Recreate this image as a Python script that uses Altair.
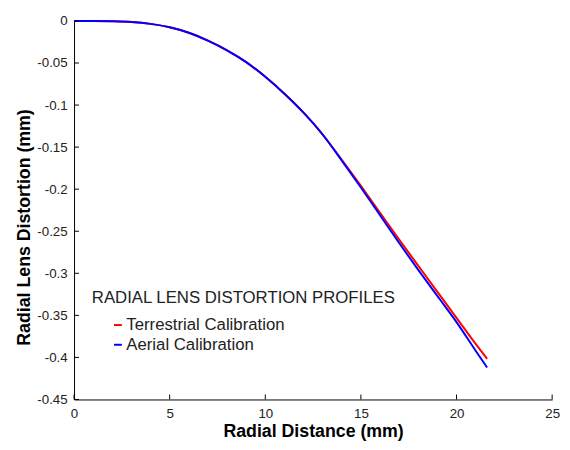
import altair as alt
import pandas as pd

# Values
radius = [0, 1, 2, 3, 4, 5, 6, 7, 8, 9, 10, 11, 12, 13, 14, 15, 16, 17, 18, 19, 20, 21, 21.6]
terrestrial = [0, 0, -0.0003, -0.0012, -0.0035, -0.0075, -0.014, -0.0235, -0.035, -0.049,
               -0.0664, -0.0865, -0.109, -0.135, -0.165, -0.196, -0.228, -0.260, -0.291,
               -0.322, -0.353, -0.384, -0.4016]
aerial = [0, 0, -0.0003, -0.0012, -0.0035, -0.0075, -0.014, -0.0235, -0.035, -0.049,
          -0.0664, -0.0865, -0.109, -0.135, -0.166, -0.198, -0.231, -0.264, -0.296,
          -0.327, -0.358, -0.392, -0.412]
series_names = ["Terrestrial Calibration", "Aerial Calibration"]
series_colors = ["#ff0000", "#0000ff"]
x_ticks = [0, 5, 10, 15, 20, 25]
y_ticks = [0, -0.05, -0.1, -0.15, -0.2, -0.25, -0.3, -0.35, -0.4, -0.45]

rows = []
for i, (name, vals) in enumerate(zip(series_names, [terrestrial, aerial])):
    for r, d in zip(radius, vals):
        rows.append({"r": r, "d": d, "series": name, "k": i})
df = pd.DataFrame(rows)

W, H = 485, 384
FONT = "Liberation Sans"
xs = alt.Scale(domain=[0, 25], nice=False, zero=False)
ys = alt.Scale(domain=[-0.45, 0], nice=False, zero=False)

x_axis = alt.Axis(values=x_ticks, title="Radial Distance (mm)", ticks=False, labelPadding=7,
                  titlePadding=3, labelFlush=False, labelOverlap=False)
y_axis = alt.Axis(values=y_ticks, title="Radial Lens Distortion (mm)", ticks=False,
                  labelPadding=7, titlePadding=3, labelFlush=False, labelOverlap=False,
                  labelExpr="'' + datum.value", titleY=209)

lines = alt.Chart(df).mark_line(strokeWidth=2, interpolate="monotone").encode(
    x=alt.X("r:Q", scale=xs, axis=x_axis),
    y=alt.Y("d:Q", scale=ys, axis=y_axis),
    color=alt.Color("series:N", sort=series_names,
                    scale=alt.Scale(domain=series_names, range=series_colors),
                    legend=alt.Legend(
                        title="RADIAL LENS DISTORTION PROFILES", orient="none",
                        legendX=18, legendY=273, titleFontSize=17, titleFontWeight="normal",
                        titleFont=FONT, titleColor="#222", labelFont=FONT, labelFontSize=17,
                        labelColor="#222", symbolType="stroke", symbolSize=64,
                        symbolStrokeWidth=2, symbolOffset=18, labelOffset=0,
                        rowPadding=2, titlePadding=10, padding=0,
                        titleLimit=500, labelLimit=400)),
    order=alt.Order("k:Q"),
)

xt = alt.Chart(pd.DataFrame({"r": x_ticks})).mark_rule(color="black", strokeWidth=1).encode(
    x=alt.X("r:Q", scale=xs, axis=x_axis), y=alt.value(H), y2=alt.value(H - 5))
yt = alt.Chart(pd.DataFrame({"d": y_ticks})).mark_rule(color="black", strokeWidth=1).encode(
    y=alt.Y("d:Q", scale=ys, axis=y_axis), x=alt.value(0), x2=alt.value(5))

chart = alt.layer(lines, xt, yt).properties(
    width=W, height=H, background="white",
    autosize=alt.AutoSizeParams(type="none"),
    padding={"left": 67, "top": 10, "right": 10, "bottom": 40},
).configure_view(strokeWidth=0).configure_axis(
    grid=False, domainColor="black", domainWidth=1,
    labelFont=FONT, labelFontSize=13.5, labelColor="#222",
    titleFont=FONT, titleFontSize=18, titleFontWeight="bold", titleColor="black",
)

chart.save("out.html", embed_options={"renderer": "svg", "actions": False})
